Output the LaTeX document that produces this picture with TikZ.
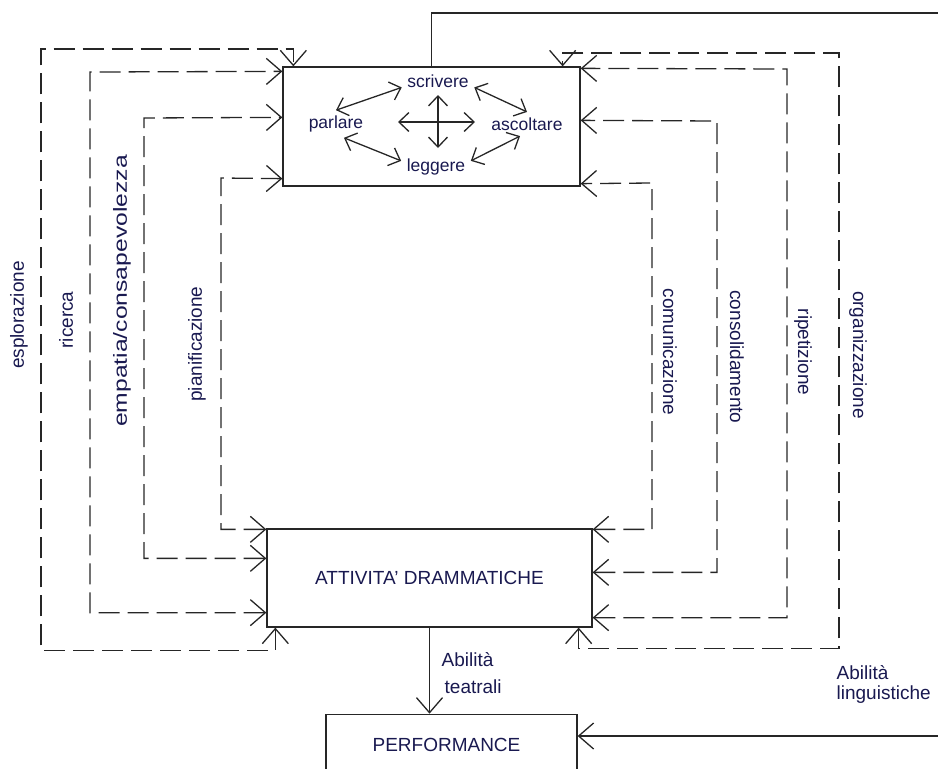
\documentclass[tikz,border=0pt]{standalone}
\usepackage{fontspec}
\setmainfont{Liberation Sans}
\usepackage{graphicx}
\usepackage{xcolor}
\usepackage{tikz}
\usetikzlibrary{arrows.meta}
\usetikzlibrary{calc}
\usetikzlibrary{positioning}
\definecolor{ink}{RGB}{25,25,80}

\begin{document}
\begin{tikzpicture}[x=1pt,y=-1pt,>={Straight Barb[length=15pt,width=26pt]},line width=1.3pt,draw=black!85]
  \tikzstyle{box}=[draw, rectangle, inner sep=0pt, font=\fontsize{19}{22}\selectfont, text=ink]
  \tikzstyle{word}=[inner sep=5pt, font=\fontsize{17.5}{21}\selectfont, text=ink]
  \tikzstyle{side}=[inner sep=0pt, font=\fontsize{19}{23}\selectfont, text=ink]
  \tikzstyle{feed}=[<->, dash pattern=on 21pt off 8pt]
  \tikzstyle{small}=[<->, >={Straight Barb[length=10pt,width=19pt]}]
  \useasboundingbox (0,0) rectangle (938,769);
  \clip (0,0) rectangle (938,769);

  % boxes
  \node[box, minimum width=297pt, minimum height=119pt] (lang) at (431.5,126.5) {};
  \node[box, minimum width=325pt, minimum height=98pt] (drama) at (429.5,578) {ATTIVITA' DRAMMATICHE};
  \node[box, minimum width=251pt, minimum height=62pt] (perf) [below=86pt of drama, xshift=22pt] {\hspace*{-10pt}PERFORMANCE};

  % the four skills
  \node[word] (scrivere) at (438,81) {scrivere};
  \node[word] (parlare) at (336,124) {parlare};
  \node[word] (ascoltare) at (527,124) {ascoltare};
  \node[word] (leggere) at (436,167) {leggere};
  \coordinate (ctr) at (438,122);
  \draw[small] (parlare.north) -- (scrivere.190);
  \draw[small] (scrivere.-10) -- (ascoltare.north);
  \draw[small] (parlare.-60) -- (leggere.170);
  \draw[small] (leggere.10) -- (ascoltare.-120);
  \draw[small] ([xshift=-40pt]ctr) -- ([xshift=37pt]ctr);
  \draw[small] ([yshift=27pt]ctr) -- ([yshift=-26pt]ctr);

  % left loops
  \draw[feed] ([xshift=9pt]drama.south west) -- ++(0,23) -| (41,49) -| ([xshift=11pt]lang.north west);
  \draw[feed] ([yshift=15pt]drama.south west) -| (90,72) -- ([yshift=-5pt]lang.north west);
  \draw[feed] ([yshift=-30pt]drama.north west) -| (144,118) -- ([yshift=-51pt]lang.north west);
  \draw[feed] ([yshift=-1pt]drama.north west) -| (221,178) -- ([yshift=8pt]lang.south west);
  % right loops
  \draw[feed] ([xshift=-14pt]drama.south east) -- ++(0,21) -| (839,53) -| ([xshift=-18pt]lang.north east);
  \draw[feed] ([yshift=10pt]drama.south east) -| (787,69) -- ([yshift=-2pt]lang.north east);
  \draw[feed] ([yshift=-44pt]drama.north east) -| (717,121) -- ([yshift=-54pt]lang.north east);
  \draw[feed] ([yshift=-1pt]drama.north east) -| (652,183) -- ([yshift=3pt]lang.south east);

  \node[side, rotate=90] (expl) at (19,315) {esplorazione};
  \node[side, rotate=90] (ric) at (66,320) {ricerca};
  \node[side, rotate=90] (emp) at (122,291) {\scalebox{1.3}[1]{empatia/consapevolezza}};
  \node[side, rotate=90] (pian) at (197,344) {pianificazione};
  \node[side, rotate=-90] (com) at (670,352) {comunicazione};
  \node[side, rotate=-90] (cons) at (737,357) {consolidamento};
  \node[side, rotate=-90] (rip) at (803,352) {ripetizione};
  \node[side, rotate=-90] (org) at (858,355) {organizzazione};

  % outputs
  \coordinate (ne) at (938,13);
  \coordinate (le) at (938,736);
  \draw (lang.north) |- (ne);
  \draw[->] (drama.south) -- (drama.south |- perf.north);
  \draw[->] (le) -- (perf.east |- le);
  \node[side, align=left, anchor=north west, font=\fontsize{19}{27}\selectfont] (teat) at (441,652) {Abilità\\\hspace*{3pt}teatrali};
  \node[side, align=left, anchor=north west, font=\fontsize{19}{20}\selectfont] (ling) at (836,665) {Abilità\\linguistiche};
\end{tikzpicture}
\end{document}
